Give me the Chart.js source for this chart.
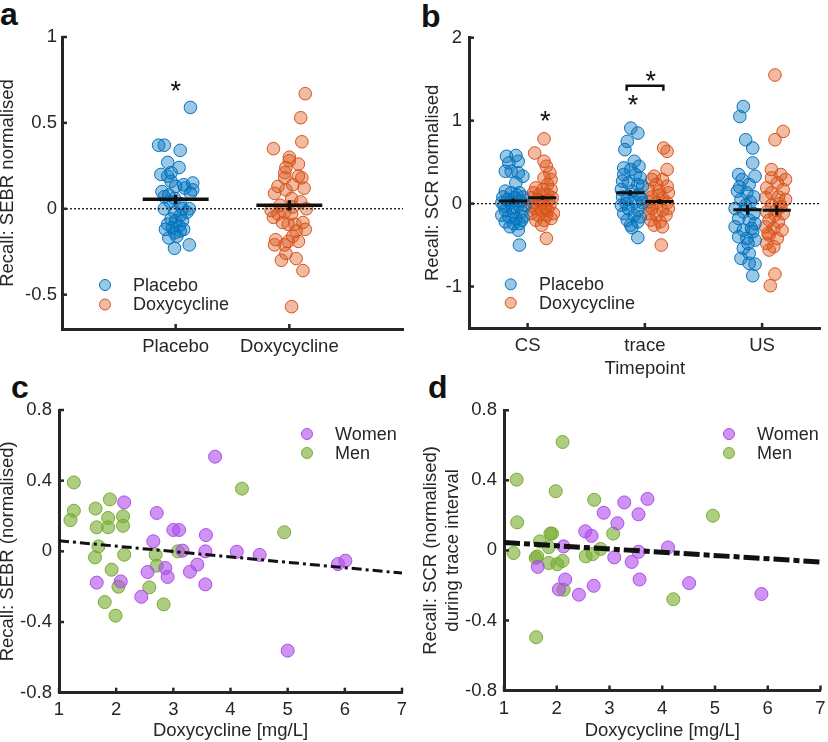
<!DOCTYPE html>
<html>
<head>
<meta charset="utf-8">
<script src="https://cdn.jsdelivr.net/npm/chart.js@4.4.1/dist/chart.umd.min.js"></script>
<style>
  body { margin: 0; background: #fff; width: 828px; height: 742px; position: relative; overflow: hidden;
         font-family: "Liberation Sans", Arial, Helvetica, sans-serif; }
  canvas { position: absolute; }
  .tag { position: absolute; font-weight: bold; font-size: 32px; line-height: 32px; color: #111; }
</style>
</head>
<body>
<div class="tag" style="left:0px;top:-2px">a</div>
<div class="tag" style="left:421px;top:0px">b</div>
<div class="tag" style="left:11px;top:371px">c</div>
<div class="tag" style="left:428px;top:371px">d</div>

<canvas id="chartA" width="414" height="371" style="left:0;top:0"></canvas>
<canvas id="chartB" width="414" height="380" style="left:414px;top:0"></canvas>
<canvas id="chartC" width="414" height="371" style="left:0;top:371px"></canvas>
<canvas id="chartD" width="414" height="371" style="left:414px;top:371px"></canvas>

<script>
// ---- panel a : SEBR recall, placebo vs doxycycline ----
const aCategories = ['Placebo', 'Doxycycline'];
const aPlaceboX = [1.13,0.85,0.90,1.04,0.93,1.03,0.87,0.93,0.96,1.07,1.15,1.00,1.15,1.13,0.88,0.90,0.94,0.99,1.04,0.90,
                   1.12,0.99,1.10,1.04,0.96,1.00,1.06,0.93,1.03,0.97,1.07,0.91,0.99,0.94,1.01,1.04,0.99,1.12,0.96,1.08,0.95,1.06];
const aPlaceboY = [0.59,0.37,0.37,0.34,0.27,0.24,0.20,0.19,0.16,0.14,0.15,0.13,0.11,0.09,0.10,0.07,0.08,0.06,0.03,0.00,
                   0.00,-0.02,-0.02,-0.04,-0.06,-0.07,-0.07,-0.09,-0.10,-0.11,-0.12,-0.12,-0.14,-0.17,-0.16,-0.13,-0.23,-0.21,0.21,0.12,0.04,0.00];
const aDoxyX = [2.14,2.10,2.11,1.86,2.00,2.00,1.97,1.96,2.08,2.11,1.96,2.03,1.90,2.13,1.87,1.97,2.02,2.15,1.84,1.90,
                1.96,2.02,1.86,1.94,2.05,2.12,2.14,2.06,2.03,1.88,1.87,1.96,1.99,2.08,1.97,1.93,2.06,2.12,2.02,2.08,1.92,2.10,1.99,2.03];
const aDoxyY = [0.67,0.53,0.39,0.35,0.30,0.28,0.24,0.21,0.19,0.18,0.18,0.14,0.13,0.12,0.09,0.11,0.06,0.00,-0.01,-0.03,
                -0.02,-0.03,-0.05,-0.08,-0.09,-0.08,-0.12,-0.13,-0.16,-0.18,-0.21,-0.21,-0.19,-0.19,-0.26,-0.30,-0.29,-0.36,-0.57,0.26,0.02,0.04,-0.09,0.01];
const aMeans = [0.055, 0.02];
const aSem = [0.027, 0.03];
const aYTicks = [-0.5, 0, 0.5, 1];
const aStarX = [1], aStarY = [0.72];

// ---- panel b : SCR recall per timepoint ----
const bCategories = ['CS', 'trace', 'US'];
const bCsPlaceboX = [0.82,0.90,0.92,0.84,0.81,0.86,0.92,0.96,0.90,0.81,0.86,0.93,0.79,0.89,0.96,0.78,0.85,0.92,0.98,0.81,
                     0.88,0.95,0.78,0.84,0.90,0.96,0.81,0.88,0.93,0.85,0.92,0.93,0.83,0.94,0.87,0.91,0.80,0.95];
const bCsPlaceboY = [0.57,0.58,0.51,0.49,0.39,0.39,0.37,0.33,0.25,0.15,0.13,0.13,0.08,0.07,0.08,0.01,0.01,-0.02,-0.02,-0.08,
                     -0.10,-0.10,-0.14,-0.16,-0.18,-0.16,-0.22,-0.24,-0.24,-0.28,-0.32,-0.50,0.05,0.03,-0.05,0.10,-0.03,-0.20];
const bCsDoxyX = [1.14,1.06,1.14,1.16,1.19,1.14,1.20,1.17,1.07,1.13,1.20,1.05,1.10,1.17,1.03,1.09,1.21,1.05,1.13,1.19,
                  1.06,1.12,1.17,1.03,1.09,1.16,1.22,1.07,1.14,1.20,1.12,1.16,1.10,1.18,1.04,1.15];
const bCsDoxyY = [0.78,0.61,0.51,0.45,0.37,0.31,0.29,0.23,0.19,0.17,0.17,0.13,0.11,0.11,0.07,0.05,0.07,0.01,0.01,-0.02,
                  -0.06,-0.08,-0.08,-0.12,-0.14,-0.14,-0.12,-0.20,-0.20,-0.18,-0.26,-0.42,0.03,0.04,-0.03,-0.06];
const bTracePlaceboX = [1.88,1.94,1.85,1.83,1.91,1.95,1.82,1.88,1.92,1.82,1.96,1.81,1.86,1.94,1.98,1.80,1.89,1.95,1.81,1.85,
                        1.92,1.98,1.80,1.86,1.94,1.82,1.91,1.96,1.85,1.94,1.88,1.94,1.89,1.84,1.97];
const bTracePlaceboY = [0.91,0.85,0.75,0.65,0.51,0.45,0.43,0.41,0.35,0.35,0.31,0.27,0.25,0.23,0.21,0.17,0.15,0.11,0.08,0.05,
                        0.02,0.01,-0.02,-0.06,-0.08,-0.12,-0.14,-0.16,-0.20,-0.22,-0.26,-0.41,-0.29,0.00,0.06];
const bTraceDoxyX = [2.16,2.19,2.19,2.06,2.15,2.10,2.19,2.03,2.12,2.20,2.06,2.15,2.03,2.10,2.19,2.06,2.15,2.20,2.03,2.10,
                     2.18,2.05,2.13,2.08,2.15,2.14,2.08,2.12,2.04];
const bTraceDoxyY = [0.67,0.63,0.41,0.29,0.29,0.23,0.21,0.17,0.15,0.13,0.08,0.07,0.02,0.01,0.01,-0.06,-0.08,-0.06,-0.12,-0.14,
                     -0.14,-0.20,-0.22,-0.26,-0.28,-0.50,0.33,0.10,-0.03];
const bUsPlaceboX = [2.84,2.81,2.86,2.92,2.92,2.94,2.80,2.83,2.89,2.79,2.87,2.93,2.82,2.90,2.77,2.84,2.93,2.80,2.89,2.94,
                     2.77,2.84,2.92,2.80,2.87,2.94,2.84,2.89,2.82,2.89,2.94,2.92,2.86,2.91,2.81,2.88];
const bUsPlaceboY = [1.17,1.05,0.77,0.67,0.49,0.33,0.35,0.29,0.23,0.15,0.13,0.08,0.05,0.02,-0.06,-0.10,-0.12,-0.18,-0.20,-0.24,
                     -0.28,-0.32,-0.34,-0.40,-0.42,-0.44,-0.54,-0.60,-0.66,-0.72,-0.73,-0.87,-0.02,-0.30,0.20,-0.48];
const bUsDoxyX = [3.11,3.18,3.11,3.08,3.16,3.08,3.20,3.13,3.04,3.18,3.08,3.14,3.03,3.20,3.08,3.16,3.04,3.11,3.18,3.06,
                  3.14,3.03,3.10,3.17,3.06,3.13,3.04,3.10,3.06,3.11,3.07,3.12,3.05,3.15];
const bUsDoxyY = [1.55,0.87,0.77,0.41,0.35,0.31,0.29,0.25,0.19,0.17,0.13,0.08,0.07,0.05,-0.02,-0.04,-0.10,-0.14,-0.12,-0.20,
                  -0.22,-0.28,-0.30,-0.32,-0.38,-0.42,-0.48,-0.52,-0.56,-0.85,-0.99,-0.08,-0.36,0.00];
const bPlaceboMeans = [0.03, 0.13, -0.075];
const bPlaceboSem = [0.03, 0.035, 0.06];
const bDoxyMeans = [0.07, 0.025, -0.08];
const bDoxySem = [0.025, 0.03, 0.06];
const bYTicks = [-1, 0, 1, 2];
const bStarX = [1.15, 1.90, 2.05], bStarY = [1.065, 1.26, 1.55];
const bBracketX = [1.845, 1.845, 2.158, 2.158], bBracketY = [1.36, 1.42, 1.42, 1.36];

// ---- panel c : SEBR vs doxycycline level ----
const cWomenX = [3.73,2.14,2.71,3.00,3.10,3.57,2.65,3.16,3.56,4.11,4.51,3.42,2.86,2.55,3.29,2.90,1.66,2.08,3.56,2.44,6.01,5.88,5.00];
const cWomenY = [0.536,0.277,0.217,0.121,0.121,0.092,0.057,0.004,0.0,-0.002,-0.02,-0.075,-0.094,-0.117,-0.115,-0.145,-0.177,-0.17,-0.187,-0.257,-0.053,-0.072,-0.562];
const cMenX = [1.26,1.26,1.20,1.64,1.89,1.86,2.12,1.66,1.86,2.12,1.69,1.63,2.14,1.92,2.04,1.80,1.99,2.58,2.83,2.69,2.71,3.08,4.20,4.94];
const cMenY = [0.39,0.23,0.177,0.242,0.294,0.189,0.198,0.136,0.136,0.145,0.028,-0.034,-0.019,-0.104,-0.20,-0.287,-0.364,-0.204,-0.30,-0.019,-0.081,0.0,0.355,0.108];
const cFitX = [1, 7], cFitY = [0.06, -0.123];

// ---- panel d : SCR (trace interval) vs doxycycline level ----
const dWomenX = [3.72,3.28,2.89,3.55,3.15,2.54,2.66,2.13,4.11,3.55,3.09,3.42,1.64,2.16,3.57,2.70,4.51,2.04,2.42,5.88];
const dWomenY = [0.294,0.274,0.215,0.206,0.155,0.109,0.083,0.023,0.017,-0.008,-0.04,-0.066,-0.094,-0.166,-0.166,-0.202,-0.187,-0.223,-0.253,-0.249];
const dMenX = [2.11,1.24,1.98,2.71,1.25,1.88,1.91,3.07,4.96,1.18,1.68,1.85,2.83,1.63,1.60,1.85,2.01,2.11,2.55,2.68,2.13,4.21,1.61];
const dMenY = [0.619,0.404,0.338,0.289,0.16,0.096,0.096,0.096,0.198,-0.015,0.051,0.019,0.008,-0.034,-0.043,-0.072,-0.079,-0.06,-0.034,-0.021,-0.225,-0.279,-0.496];
const dFitX = [1, 7], dFitY = [0.045, -0.066];

const doseTicks = [1, 2, 3, 4, 5, 6, 7];
const recallTicks = [-0.8, -0.4, 0, 0.4, 0.8];

// colours
const FONT = '"Liberation Sans", Arial, Helvetica, sans-serif';
const INK = '#262626';
const BLUE = { fill: 'rgba(0,114,189,0.4)', edge: '#0072BD' };
const ORANGE = { fill: 'rgba(217,83,25,0.4)', edge: '#D95319' };
const PURPLE = { fill: 'rgba(175,75,235,0.6)', edge: '#B04BE8' };
const GREEN = { fill: 'rgba(119,172,48,0.6)', edge: '#77AC30' };

function pts(xs, ys) {
    const n = Math.min(xs.length, ys.length);
    let out = [];
    for (let i = 0; i < n; i++) out.push({ x: xs[i], y: ys[i] });
    return out;
}

function dots(label, xs, ys, col, r) {
    return { label: label, data: pts(xs, ys), backgroundColor: col.fill, borderColor: col.edge,
             borderWidth: 1, pointRadius: r, pointHoverRadius: r, order: 5 };
}

function line(data, width, dash) {
    return { data: data, showLine: true, pointRadius: 0, pointHoverRadius: 0, borderColor: '#111',
             borderWidth: width, borderDash: dash || [], order: 1, fill: false };
}

// mean bar + sem whisker for one group
function meanBar(cx, half, m, s, w) {
    return [
        line([{ x: cx - half, y: m }, { x: cx + half, y: m }], w),
        line([{ x: cx, y: m - s }, { x: cx, y: m + s }], w)
    ];
}

// inward ticks, asterisks and in-plot legend
const decor = {
    id: 'decor',
    afterDatasetsDraw(chart, args, opts) {
        const { ctx, chartArea, scales: { x, y } } = chart;
        ctx.save();
        ctx.strokeStyle = INK; ctx.lineWidth = 2.5;
        x.ticks.forEach(t => {
            const px = x.getPixelForValue(t.value);
            ctx.beginPath(); ctx.moveTo(px, chartArea.bottom); ctx.lineTo(px, chartArea.bottom - 5); ctx.stroke();
        });
        y.ticks.forEach(t => {
            const py = y.getPixelForValue(t.value);
            ctx.beginPath(); ctx.moveTo(chartArea.left, py); ctx.lineTo(chartArea.left + 5, py); ctx.stroke();
        });
        ctx.fillStyle = '#111';
        ctx.font = '27px ' + FONT;
        ctx.textAlign = 'center'; ctx.textBaseline = 'alphabetic';
        (opts.starX || []).forEach((sx, i) => {
            ctx.fillText('*', x.getPixelForValue(sx), y.getPixelForValue(opts.starY[i]) + 15);
        });
        if (opts.legend) {
            const L = opts.legend;
            ctx.font = '18px ' + FONT;
            ctx.textAlign = 'left'; ctx.textBaseline = 'middle';
            L.items.forEach((it, i) => {
                const cy = L.y + i * L.dy;
                ctx.beginPath(); ctx.arc(L.x, cy, L.r, 0, Math.PI * 2);
                ctx.fillStyle = it.col.fill; ctx.fill();
                ctx.strokeStyle = it.col.edge; ctx.lineWidth = 1; ctx.stroke();
                ctx.fillStyle = INK;
                ctx.fillText(it.label, L.textX, cy + 1);
            });
        }
        ctx.restore();
    }
};

function makePanel(id, cfg) {
    const canvas = document.getElementById(id);
    const W = canvas.width, H = canvas.height, A = cfg.area;
    const tickFont = { family: FONT, size: 18.5 };
    const titleFont = { family: FONT, size: 18.5, lineHeight: cfg.yTitleLH || 1.2 };
    return new Chart(canvas.getContext('2d'), {
        type: 'scatter',
        data: { datasets: cfg.datasets },
        options: {
            responsive: false,
            animation: false,
            layout: { padding: { top: A.top, right: W - A.right, left: 0, bottom: 0 } },
            plugins: { legend: { display: false }, tooltip: { enabled: false }, decor: cfg.decor || {} },
            scales: {
                x: {
                    type: 'linear', min: cfg.xMin, max: cfg.xMax,
                    afterBuildTicks: s => { s.ticks = cfg.xTicks.map(v => ({ value: v })); },
                    afterFit: s => { s.height = H - A.bottom; s.paddingLeft = 0; s.paddingRight = 0; },
                    grid: { display: false, drawTicks: false },
                    border: { display: true, color: INK, width: 3 },
                    ticks: { autoSkip: false, maxRotation: 0, padding: cfg.xPad, color: INK, font: tickFont,
                             callback: (v, i) => cfg.xLabels ? cfg.xLabels[i] : String(cfg.xTicks[i]) },
                    title: { display: !!cfg.xTitle, text: cfg.xTitle, color: INK,
                             font: { family: FONT, size: 18.5, lineHeight: 1.2 }, padding: { top: 0, bottom: 0 } }
                },
                y: {
                    type: 'linear', min: cfg.yMin, max: cfg.yMax,
                    afterBuildTicks: s => { s.ticks = cfg.yTicks.map(v => ({ value: v })); },
                    afterFit: s => { s.width = A.left; s.paddingTop = 0; s.paddingBottom = 0; },
                    grid: { display: false, drawTicks: false },
                    border: { display: true, color: INK, width: 3 },
                    ticks: { autoSkip: false, padding: cfg.yPad || 7, color: INK, font: tickFont,
                             callback: (v, i) => String(cfg.yTicks[i]) },
                    title: { display: true, text: cfg.yTitle, color: INK, font: titleFont,
                             padding: { top: cfg.yTitlePad || 0, bottom: 0 } }
                }
            }
        },
        plugins: [decor]
    });
}

// panel a
let aSets = [line([{ x: 0, y: 0 }, { x: 3, y: 0 }], 1.3, [2, 2])];
[1, 2].forEach((c, i) => { aSets = aSets.concat(meanBar(c, 0.29, aMeans[i], aSem[i], 3.5)); });
aSets.push(dots('Placebo', aPlaceboX, aPlaceboY, BLUE, 6.3));
aSets.push(dots('Doxycycline', aDoxyX, aDoxyY, ORANGE, 6.3));
makePanel('chartA', {
    area: { left: 62, top: 37, right: 403, bottom: 329 },
    xMin: 0, xMax: 3, xTicks: [1, 2], xLabels: aCategories, xPad: 7, yPad: 5,
    yMin: -0.7, yMax: 1, yTicks: aYTicks,
    yTitle: 'Recall: SEBR normalised', yTitleLH: 0.85,
    datasets: aSets,
    decor: { starX: aStarX, starY: aStarY,
             legend: { x: 105, y: 285, dy: 19.5, r: 5.5, textX: 133,
                       items: [{ label: 'Placebo', col: BLUE }, { label: 'Doxycycline', col: ORANGE }] } }
});

// panel b
let bSets = [line([{ x: 0.5, y: 0 }, { x: 3.5, y: 0 }], 1.3, [2, 2]), line(pts(bBracketX, bBracketY), 2.5)];
[1, 2, 3].forEach((c, i) => {
    bSets = bSets.concat(meanBar(c - 0.125, 0.12, bPlaceboMeans[i], bPlaceboSem[i], 3));
    bSets = bSets.concat(meanBar(c + 0.125, 0.12, bDoxyMeans[i], bDoxySem[i], 3));
});
bSets.push(dots('Placebo', bCsPlaceboX.concat(bTracePlaceboX, bUsPlaceboX), bCsPlaceboY.concat(bTracePlaceboY, bUsPlaceboY), BLUE, 6.3));
bSets.push(dots('Doxycycline', bCsDoxyX.concat(bTraceDoxyX, bUsDoxyX), bCsDoxyY.concat(bTraceDoxyY, bUsDoxyY), ORANGE, 6.3));
makePanel('chartB', {
    area: { left: 55, top: 37.7, right: 412, bottom: 328 },
    xMin: 0.5, xMax: 3.5, xTicks: [1, 2, 3], xLabels: bCategories, xPad: 7, xTitle: 'Timepoint',
    yMin: -1.5, yMax: 2, yTicks: bYTicks,
    yTitle: 'Recall: SCR normalised', yTitlePad: 7.4,
    datasets: bSets,
    decor: { starX: bStarX, starY: bStarY,
             legend: { x: 96.7, y: 284.3, dy: 18.5, r: 5.5, textX: 125,
                       items: [{ label: 'Placebo', col: BLUE }, { label: 'Doxycycline', col: ORANGE }] } }
});

// panel c
makePanel('chartC', {
    area: { left: 59, top: 39, right: 402, bottom: 321.7 },
    xMin: 1, xMax: 7, xTicks: doseTicks, xPad: 6, xTitle: 'Doxycycline [mg/L]',
    yMin: -0.8, yMax: 0.8, yTicks: recallTicks,
    yTitle: 'Recall: SEBR (normalised)', yTitleLH: 0.85,
    datasets: [
        line(pts(cFitX, cFitY), 3, [10, 4, 3, 4]),
        dots('Women', cWomenX, cWomenY, PURPLE, 6.5),
        dots('Men', cMenX, cMenY, GREEN, 6.5)
    ],
    decor: { legend: { x: 307, y: 63, dy: 19, r: 5.5, textX: 335,
                       items: [{ label: 'Women', col: PURPLE }, { label: 'Men', col: GREEN }] } }
});

// panel d
makePanel('chartD', {
    area: { left: 90, top: 39.3, right: 409, bottom: 319.5 },
    xMin: 1, xMax: 7, xTicks: doseTicks, xPad: 7.5, xTitle: 'Doxycycline [mg/L]',
    yMin: -0.8, yMax: 0.8, yTicks: recallTicks,
    yTitle: ['Recall: SCR (normalised)', 'during trace interval'], yTitlePad: 5.5,
    datasets: [
        line(pts(dFitX, dFitY), 5, [16, 4, 6, 4]),
        dots('Women', dWomenX, dWomenY, PURPLE, 6.5),
        dots('Men', dMenX, dMenY, GREEN, 6.5)
    ],
    decor: { legend: { x: 315, y: 63, dy: 19, r: 5.5, textX: 343,
                       items: [{ label: 'Women', col: PURPLE }, { label: 'Men', col: GREEN }] } }
});
</script>
</body>
</html>
